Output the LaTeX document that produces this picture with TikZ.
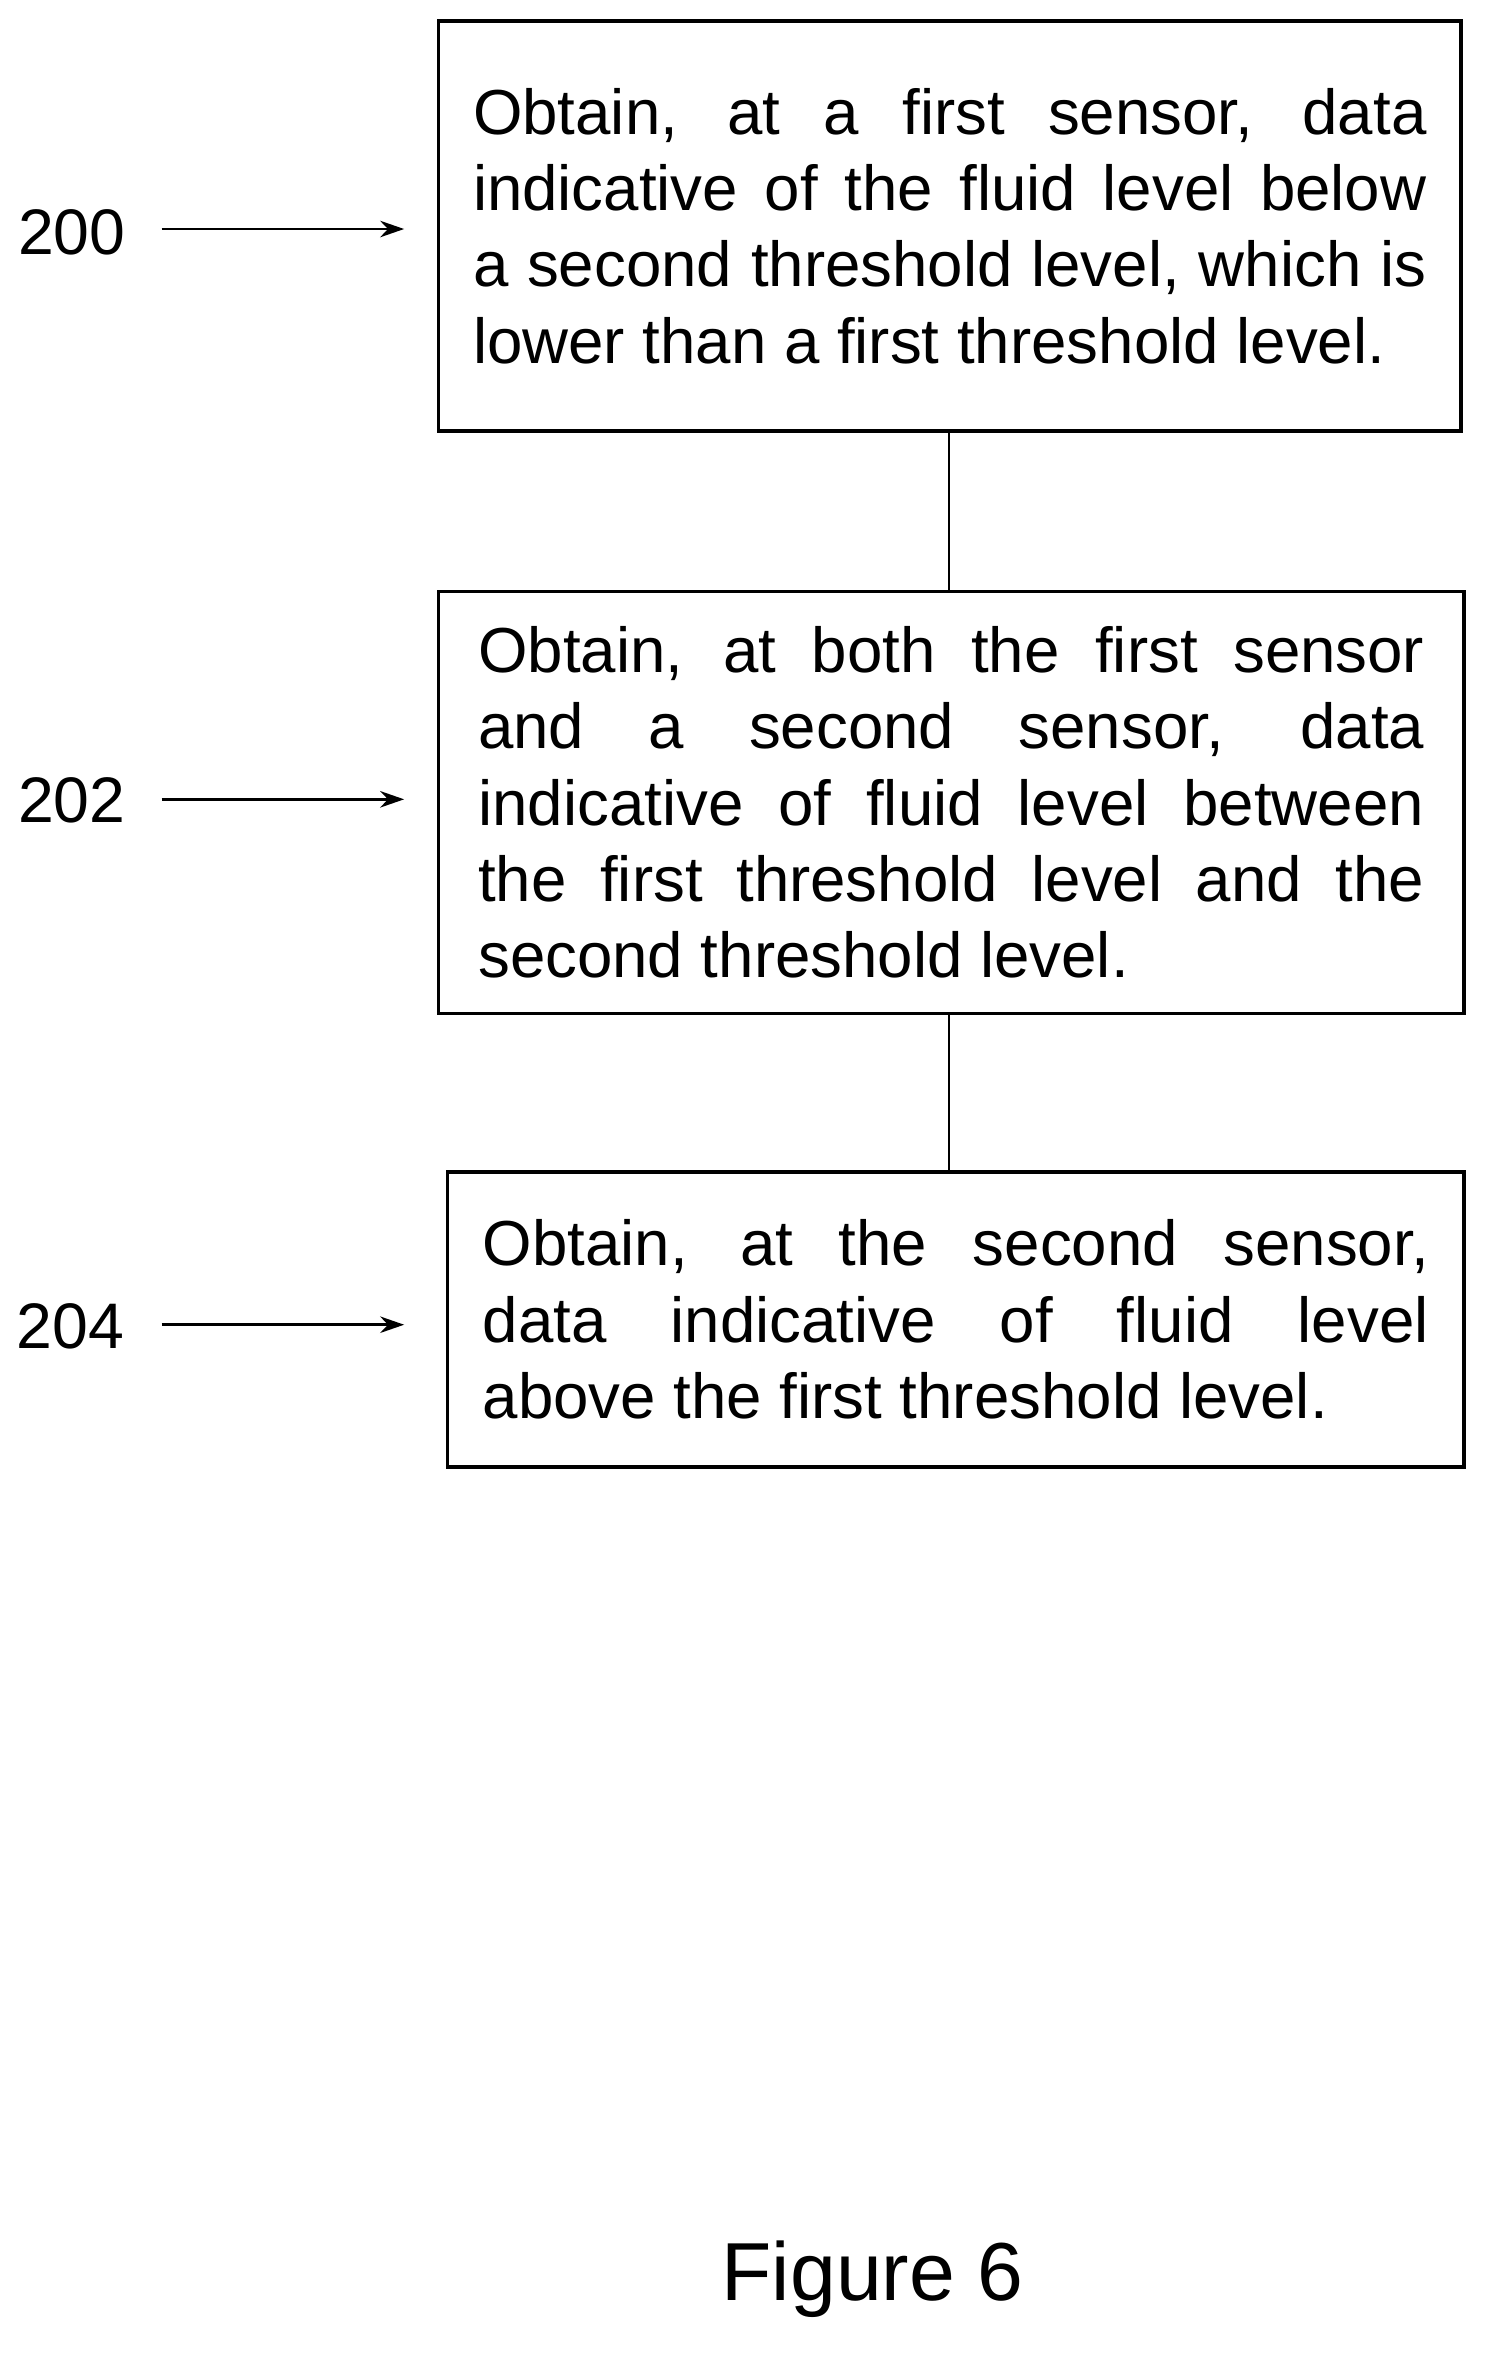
\documentclass[tikz,border=0pt]{standalone}
\usepackage{fontspec}
\setmainfont{Liberation Sans}
\usetikzlibrary{arrows.meta}
\begin{document}
\begin{tikzpicture}[x=1pt,y=-1pt,
  box/.style={draw,line width=2.2pt,align=justify,inner sep=0pt,
    font=\fontsize{42.5}{51}\selectfont},
  lab/.style={font=\fontsize{43}{50}\selectfont},
  arr/.style={line width=1.8pt,-{Stealth[length=16pt,width=11pt]}},
  con/.style={line width=1.8pt}]
\useasboundingbox (0,0) rectangle (1000,1580);
\node[box,minimum width=683,minimum height=274,text width=637] (b1) at (634.5,151)
 {Obtain, at a first sensor, data\linebreak indicative of the fluid level below\linebreak a second threshold level, which is\linebreak lower than a first threshold level.\par\vspace*{14pt}};
\node[box,minimum width=685,minimum height=282,text width=632] (b2) at (635.5,536)
 {Obtain, at both the first sensor\linebreak and a second sensor, data\linebreak indicative of fluid level between\linebreak the first threshold level and the\linebreak second threshold level.};
\node[box,minimum width=679,minimum height=197,text width=632] (b3) at (638.5,881.5)
 {Obtain, at the second sensor,\linebreak data indicative of fluid level\linebreak above the first threshold level.\par\vspace*{6pt}};
\draw[con] (b1.south -| 634,0) -- (b2.north -| 634,0);
\draw[con] (b2.south -| 634,0) -- (b3.north -| 634,0);
\node[lab] (l0) at (48,155) {200};
\node[lab] (l2) at (48,535) {202};
\node[lab] (l4) at (47,886) {204};
\coordinate (a0) at (108,153); \coordinate (e0) at (270,153);
\coordinate (a2) at (108,534); \coordinate (e2) at (270,534);
\coordinate (a4) at (108,885); \coordinate (e4) at (270,885);
\draw[arr] (a0) -- (e0);
\draw[arr] (a2) -- (e2);
\draw[arr] (a4) -- (e4);
\node[font=\fontsize{55}{64}\selectfont] (fig) at (583,1523) {Figure 6};
\end{tikzpicture}
\end{document}
